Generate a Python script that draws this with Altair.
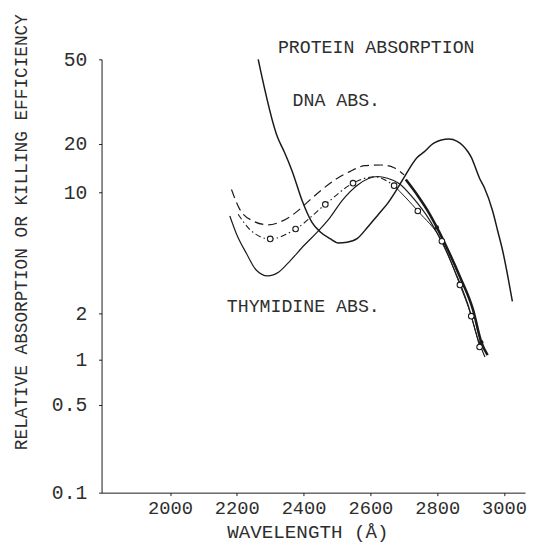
import altair as alt
import pandas as pd

# ---------------- data ----------------
x_ticks = [2000, 2200, 2400, 2600, 2800, 3000]
y_ticks = [0.1, 0.5, 1, 2, 10, 20, 50]
# hand-drawn axis: tick marks are not evenly spaced on the original
y_tick_px = [440, 351, 305, 258, 135, 86, 0]

protein_wl = [2264, 2322, 2342, 2366, 2396, 2425, 2450, 2479, 2504, 2530, 2560,
              2592, 2625, 2651, 2680, 2700, 2740, 2760, 2790, 2835, 2860, 2892,
              2901, 2927, 2941, 2966, 2981, 2996, 3025]
protein_val = [50, 21.5, 17.9, 13.5, 8.9, 6.7, 5.9, 5.4, 5.1, 5.15, 5.4,
               6.3, 7.5, 8.6, 10.5, 12.3, 16.5, 17.8, 20.2, 21.1, 20.6, 17.9,
               16.7, 12.2, 10.7, 7.8, 6.0, 4.6, 2.35]

thin_wl = [2179, 2199, 2229, 2258, 2292, 2327, 2361, 2401, 2440, 2479, 2514,
           2563, 2622, 2651, 2686, 2731, 2775, 2819, 2854, 2892, 2922, 2943]
thin_val = [7.3, 5.75, 4.43, 3.56, 3.29, 3.48, 4.05, 4.93, 5.87, 7.14, 8.89,
            11.15, 12.54, 12.24, 11.36, 9.12, 7.02, 4.93, 3.47, 2.25, 1.36, 1.04]

dash_wl = [2184, 2209, 2248, 2293, 2337, 2376, 2415, 2455, 2494, 2538, 2583,
           2632, 2671, 2701]
dash_val = [10.4, 7.97, 6.84, 6.49, 6.84, 7.63, 8.89, 10.4, 11.97, 13.46, 14.65,
            14.8, 14.24, 12.84]

kill_wl = [2300, 2376, 2465, 2548, 2671, 2742, 2814, 2868, 2902, 2927]
kill_val = [5.38, 6.14, 8.51, 11.4, 11.0, 7.8, 5.22, 2.92, 1.92, 1.21]

dashdot_wl = [2204, 2243, 2300, 2376, 2465, 2548, 2612, 2671]
dashdot_val = [7.47, 6.0, 5.38, 6.14, 8.51, 11.4, 12.5, 11.0]

killtail_wl = [2671, 2742, 2814, 2868, 2902, 2927]
killtail_val = [11.0, 7.8, 5.22, 2.92, 1.92, 1.21]

bold_wl = [2706, 2745, 2769, 2799, 2828, 2868, 2907, 2932, 2951]
bold_val = [12.0, 9.37, 7.97, 6.27, 4.83, 3.26, 2.11, 1.30, 1.07]

dot_wl = [2799, 2932]
dot_val = [6.27, 1.30]

label_text = ["PROTEIN ABSORPTION", "DNA ABS.", "THYMIDINE ABS."]
label_wl = [2323, 2367, 2170]
label_val = [57, 32, 2.2]

# ---------------- chart ----------------
FONT = "Liberation Mono"
INK = "#1a1a1a"
TXT = "#2e2e2e"

xs = alt.Scale(domain=[1795, 3063], nice=False, zero=False)
ys = alt.Scale(type="log", domain=y_ticks, range=y_tick_px, nice=False)

x_axis = alt.Axis(values=x_ticks, format="d", title="WAVELENGTH (Å)",
                  grid=False, labelFont=FONT, labelFontSize=19, labelColor=TXT,
                  labelPadding=3, tickSize=3, tickColor=INK, domainColor=INK,
                  titleFont=FONT, titleFontSize=19.5, titleFontWeight="normal",
                  titleColor=TXT, titleX=209, titleY=40, titleBaseline="middle",
                  labelFlush=False, labelOverlap=False)
y_axis = alt.Axis(values=y_ticks, format="~g",
                  title="RELATIVE ABSORPTION OR KILLING EFFICIENCY",
                  grid=False, labelFont=FONT, labelFontSize=20, labelColor=TXT,
                  labelPadding=12, tickSize=3, tickColor=INK, domainColor=INK,
                  titleFont=FONT, titleFontSize=18, titleFontWeight="normal",
                  titleColor=TXT, titleX=-81, titleY=175, titleBaseline="middle",
                  titleAlign="center", labelFlush=False, labelOverlap=False)

X = alt.X("wl:Q", scale=xs, axis=x_axis, title="WAVELENGTH (Å)")
Y = alt.Y("val:Q", scale=ys, axis=y_axis, title="RELATIVE ABSORPTION OR KILLING EFFICIENCY")


def df(wl, val):
    return pd.DataFrame({"wl": wl, "val": val})


def line(wl, val, width=1.2, dash=None):
    kw = dict(interpolate="monotone", color=INK, strokeWidth=width)
    if dash:
        kw["strokeDash"] = dash
    return alt.Chart(df(wl, val)).mark_line(**kw).encode(x=X, y=Y)


protein = line(protein_wl, protein_val, width=1.5)
thin = line(thin_wl, thin_val, width=1.2)
dashed = line(dash_wl, dash_val, width=1.2, dash=[9, 5])
dashdot = line(dashdot_wl, dashdot_val, width=1.1, dash=[6, 3, 1.5, 3])
killtail = line(killtail_wl, killtail_val, width=1.0)
bold = line(bold_wl, bold_val, width=2.6)

circles = alt.Chart(df(kill_wl, kill_val)).mark_point(
    shape="circle", filled=True, fill="white", stroke=INK, strokeWidth=1.1,
    size=32, opacity=1
).encode(x=X, y=Y)

dots = alt.Chart(df(dot_wl, dot_val)).mark_point(
    shape="circle", filled=True, color=INK, size=20, opacity=1
).encode(x=X, y=Y)

labels = alt.Chart(pd.DataFrame({"t": label_text, "wl": label_wl, "val": label_val})).mark_text(
    font=FONT, fontSize=18.5, color=TXT, align="left", baseline="middle"
).encode(x=X, y=Y, text="t:N")

chart = alt.layer(protein, thin, dashed, dashdot, killtail, bold, circles, dots, labels).properties(
    width=430, height=440,
    autosize=alt.AutoSizeParams(type="none"),
    padding={"left": 95, "top": 48, "right": 2, "bottom": 47},
    background="white",
).configure_view(stroke=None)

chart.save("out.html", embed_options={"renderer": "svg", "actions": False})
